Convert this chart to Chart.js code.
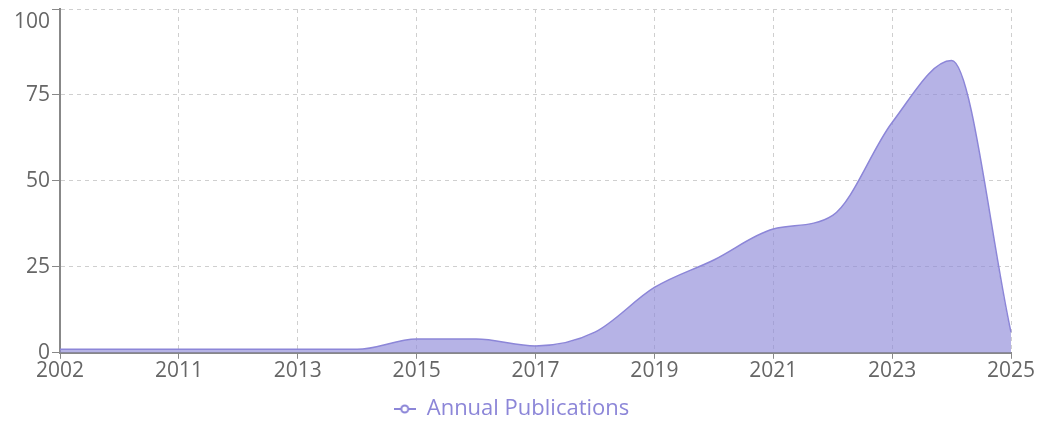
<!DOCTYPE html>
<html>
<head>
<meta charset="utf-8">
<script src="https://cdn.jsdelivr.net/npm/chart.js@4.4.0/dist/chart.umd.min.js"></script>
<style>
  html, body { margin: 0; padding: 0; background: #fff; }
  #wrap { width: 1039px; height: 423px; }
</style>
</head>
<body>
<div id="wrap"><canvas id="myChart"></canvas></div>
<script>
const years = ["2002", "2010", "2011", "2012", "2013", "2014", "2015", "2016", "2017",
  "2018", "2019", "2020", "2021", "2022", "2023", "2024", "2025"];
const publications = [1, 1, 1, 1, 1, 1, 4, 4, 2, 6, 19, 27, 36, 40, 67, 85, 6];
const yTicks = [0, 25, 50, 75, 100];

const lineCol = "#8c86d8";
const fillCol = "rgba(143, 138, 217, 0.65)";

// legend icon: short line with a small hollow circle
const icon = document.createElement("canvas");
icon.width = 22; icon.height = 10;
const ic = icon.getContext("2d");
ic.strokeStyle = lineCol;
ic.lineWidth = 2;
ic.beginPath(); ic.moveTo(0, 5); ic.lineTo(22, 5); ic.stroke();
ic.fillStyle = "#fff";
ic.beginPath(); ic.arc(11, 5, 3.5, 0, Math.PI * 2); ic.fill(); ic.stroke();

Chart.defaults.font.family = "'Open Sans', 'Noto Sans', sans-serif";

new Chart("myChart", {
  type: "line",
  data: {
    labels: years,
    datasets: [{
      label: "Annual Publications",
      data: publications,
      borderColor: lineCol,
      backgroundColor: fillCol,
      borderWidth: 1.5,
      fill: "origin",
      pointRadius: 0,
      cubicInterpolationMode: "monotone",
    }]
  },
  options: {
    responsive: true,
    maintainAspectRatio: false,
    animation: false,
    layout: { padding: { left: 12, right: 28, top: 9, bottom: -7 } },
    plugins: {
      legend: {
        position: "bottom",
        labels: {
          usePointStyle: true,
          pointStyle: icon,
          color: "#8c86d8",
          font: { size: 22 },
          padding: 4,
        }
      },
      tooltip: { enabled: false },
    },
    scales: {
      x: {
        grid: {
          color: "#cfcfcf",
          tickColor: "#888",
          tickLength: 6,
          offset: false,
        },
        border: { color: "#888", width: 2, dash: [4, 4] },
        ticks: {
          autoSkip: true,
          maxTicksLimit: 9,
          maxRotation: 0,
          color: "#666",
          font: { size: 21 },
          padding: 0,
        },
        afterFit: (axis) => { axis.height += 10; },
      },
      y: {
        min: 0,
        max: 100,
        afterBuildTicks: (axis) => { axis.ticks = yTicks.map(v => ({ value: v })); },
        grid: {
          color: "#cfcfcf",
          tickColor: "#888",
          tickLength: 8,
        },
        border: { color: "#888", width: 2, dash: [4, 4] },
        ticks: {
          color: "#666",
          font: { size: 21 },
          padding: 2,
          // top label sits just under the top line, as in the source chart
          callback: (v) => v === 100 ? ["", "100"] : String(v),
        },
        afterFit: (axis) => { axis.paddingTop = 0; },
      }
    }
  }
});
</script>
</body>
</html>
